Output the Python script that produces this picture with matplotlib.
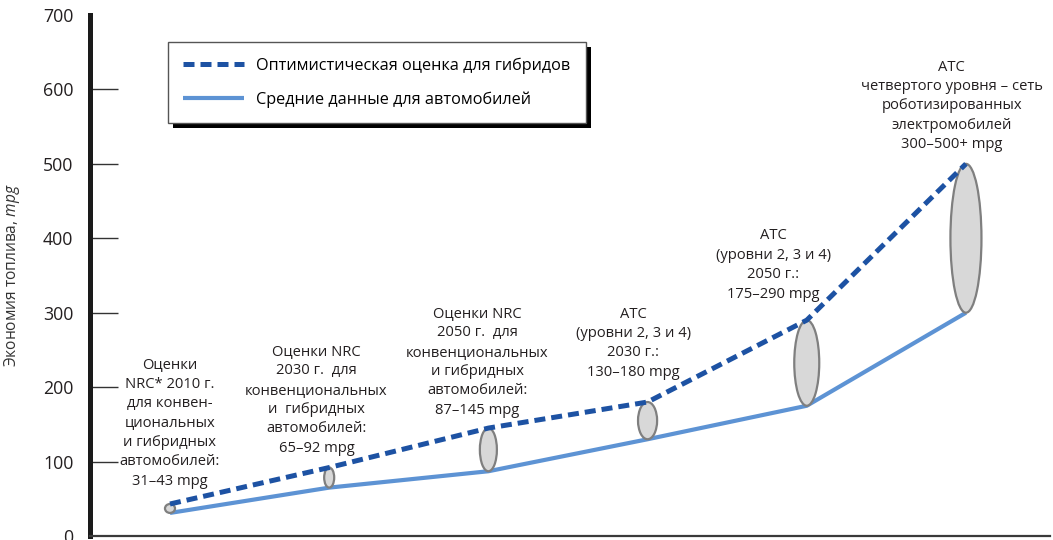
import matplotlib
matplotlib.use("Agg")
import matplotlib.pyplot as plt
from matplotlib.patches import Ellipse, Rectangle

plt.rcParams['font.family'] = ['Open Sans', 'DejaVu Sans']
plt.rcParams['mathtext.fontset'] = 'custom'
plt.rcParams['mathtext.rm'] = 'Open Sans'
plt.rcParams['mathtext.it'] = 'Open Sans:italic'

# Fuel economy stages, lower (average cars) and upper (optimistic hybrids) bound
stages = ['NRC 2010', 'NRC 2030', 'NRC 2050', 'ATC 2030', 'ATC 2050', 'ATC 4']
avg_mpg = [31, 65, 87, 130, 175, 300]
hybrid_mpg = [43, 92, 145, 180, 290, 500]

series_labels = ['Оптимистическая оценка для гибридов', 'Средние данные для автомобилей']
y_ticks = [0, 100, 200, 300, 400, 500, 600, 700]
y_label = 'Экономия топлива, $\\mathit{mpg}$'

stage_notes = [
    'Оценки\nNRC* 2010 г.\nдля конвен-\nциональных\nи гибридных\nавтомобилей:\n31–43 mpg',
    'Оценки NRC\n2030 г.  для\nконвенциональных\nи  гибридных\nавтомобилей:\n65–92 mpg',
    'Оценки NRC\n2050 г.  для\nконвенциональных\nи гибридных\nавтомобилей:\n87–145 mpg',
    'АТС\n(уровни 2, 3 и 4)\n2030 г.:\n130–180 mpg',
    'АТС\n(уровни 2, 3 и 4)\n2050 г.:\n175–290 mpg',
    'АТС\nчетвертого уровня – сеть\nроботизированных\nэлектромобилей\n300–500+ mpg',
]

dark_blue = '#1d52a3'
light_blue = '#5d93d4'

fig = plt.figure(figsize=(10.53, 5.40), dpi=100)
ax = fig.add_axes([90 / 1053, 4 / 540, 960 / 1053, 521 / 540])

x = list(range(len(stages)))

# range ellipses between the two estimates
ell_w = [0.063, 0.063, 0.107, 0.12, 0.157, 0.195]
for xi, lo, hi, w in zip(x, avg_mpg, hybrid_mpg, ell_w):
    ax.add_patch(Ellipse((xi, (lo + hi) / 2), w, hi - lo, facecolor='#d8d8d8',
                         edgecolor='#7f7f7f', lw=1.6, zorder=3))

ax.plot(x, avg_mpg, color=light_blue, lw=3.0, solid_capstyle='butt', zorder=2,
        label=series_labels[1])
ax.plot(x, hybrid_mpg, color=dark_blue, lw=3.6, ls=(0, (2.2, 1.2)), zorder=4,
        label=series_labels[0])

# stage notes
note_xy = [(0.0, 152), (0.92, 183), (1.93, 234), (2.91, 259), (3.79, 364), (4.91, 578)]
for (tx, ty), note in zip(note_xy, stage_notes):
    ax.text(tx, ty, note, ha='center', va='center', multialignment='center',
            fontsize=10.6, linespacing=1.4, color='#231f20', zorder=5)

ax.set_xlim(-0.5025, 5.528)
ax.set_ylim(0, 700)
ax.set_yticks(y_ticks)
ax.set_xticks([])
ax.tick_params(axis='y', direction='in', length=20, width=1.0, color='#333333',
               pad=12, labelsize=12.8, labelcolor='#231f20')
for t in (ax.yaxis.get_major_ticks()[0], ax.yaxis.get_major_ticks()[-1]):
    t.tick1line.set_visible(False)

ax.spines['top'].set_visible(False)
ax.spines['right'].set_visible(False)
ax.spines['left'].set_linewidth(3.6)
ax.spines['left'].set_color('#1a1a1a')
ax.spines['bottom'].set_linewidth(1.6)
ax.spines['bottom'].set_color('#3a3a3a')

ax.set_ylabel(y_label, fontsize=11.2, color='#333333')
ax.yaxis.set_label_coords(-0.071, 0.5)

handles, labels = ax.get_legend_handles_labels()
leg = ax.legend(handles[::-1], labels[::-1], loc='upper left',
                bbox_to_anchor=(0.081, 0.948), borderaxespad=0, fontsize=11.7,
                frameon=True, fancybox=False, edgecolor='#555555', framealpha=1,
                handlelength=3.75, handletextpad=0.75, labelspacing=1.07,
                borderpad=0.95)
leg.get_frame().set_linewidth(1.0)
leg.set_zorder(6)

# solid black drop shadow under the legend box
fig.canvas.draw()
bb = leg.get_frame().get_window_extent()
inv = ax.transAxes.inverted()
(x0, y0), (x1, y1) = inv.transform([(bb.x0 + 5, bb.y0 - 5), (bb.x1 + 5, bb.y1 - 5)])
ax.add_patch(Rectangle((x0, y0), x1 - x0, y1 - y0, transform=ax.transAxes,
                       facecolor='black', edgecolor='none', zorder=5.5, clip_on=False))

fig.savefig('out.png', dpi=100)
